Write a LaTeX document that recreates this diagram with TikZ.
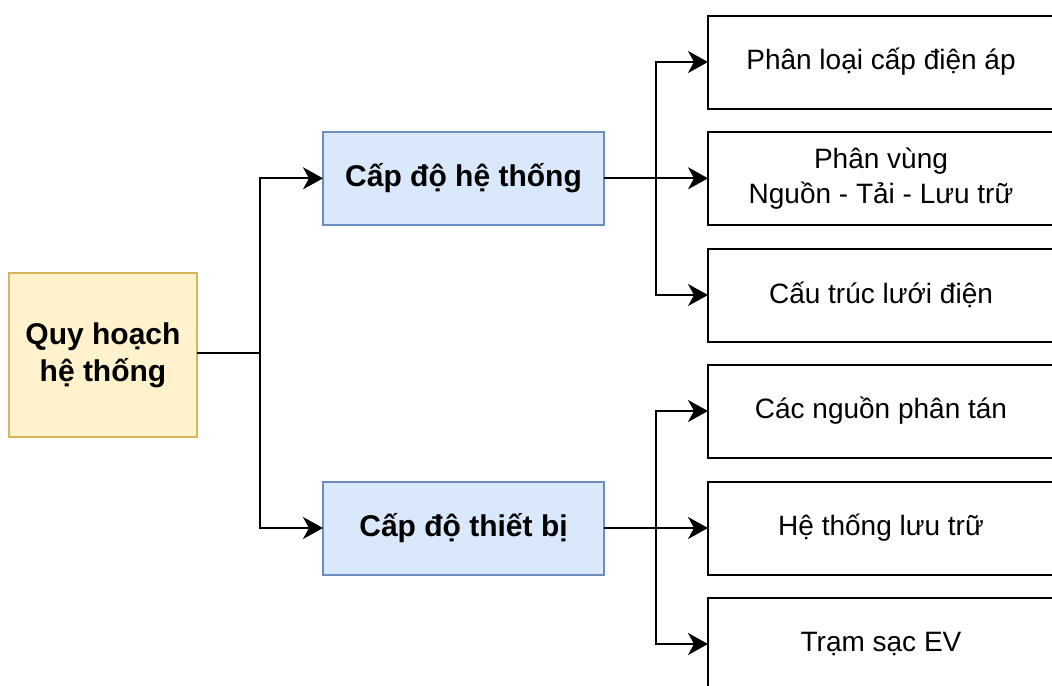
\documentclass[tikz,border=0pt]{standalone}
\usepackage{fontspec}
\setmainfont{Liberation Sans}
\usetikzlibrary{arrows.meta}
\definecolor{rootfill}{HTML}{FFF2CC}
\definecolor{rootline}{HTML}{D6B656}
\definecolor{levelfill}{HTML}{DAE8FC}
\definecolor{levelline}{HTML}{6C8EBF}
\begin{document}
\begin{tikzpicture}[x=0.5pt,y=-0.5pt,
  basebox/.style={draw, line width=1pt, inner sep=0pt, outer sep=0pt, align=center},
  rootbox/.style={basebox, fill=rootfill, draw=rootline, minimum width=94pt, minimum height=82pt,
    font=\bfseries\fontsize{15}{18.4}\selectfont},
  levelbox/.style={basebox, fill=levelfill, draw=levelline, minimum width=140.5pt, minimum height=46.5pt,
    font=\bfseries\fontsize{15}{18}\selectfont},
  itembox/.style={basebox, fill=white, draw=black, minimum width=173pt, minimum height=46.5pt,
    font=\fontsize{14}{17.5}\selectfont},
  link/.style={draw=black, line width=1pt},
  arrowlink/.style={link, -{Stealth[length=10pt, width=11pt, inset=3pt]}}
]
\useasboundingbox (0,0) rectangle (1052,685);

% hierarchy boxes
\node[rootbox] (root) at (103,355) {Quy hoạch\\hệ thống};
\node[levelbox] (sys) at (463.5,178.3) {Cấp độ hệ thống};
\node[levelbox] (dev) at (463.5,528) {Cấp độ thiết bị};

\node[itembox] (a1) at (881,62)  {Phân loại cấp điện áp};
\node[itembox] (a2) at (881,178.3) {Phân vùng\\Nguồn - Tải - Lưu trữ};
\node[itembox] (a3) at (881,295) {Cấu trúc lưới điện};
\node[itembox] (b1) at (881,411) {Các nguồn phân tán};
\node[itembox] (b2) at (881,528) {Hệ thống lưu trữ};
\node[itembox] (b3) at (881,644) {Trạm sạc EV};

% branching points
\coordinate (j0) at (260,353);
\coordinate (j1) at (656,178.3);
\coordinate (j2) at (656,528);

% connectors
\draw[link] (root.east |- j0) -- (j0);
\draw[arrowlink] (j0) |- (sys.west);
\draw[arrowlink] (j0) |- (dev.west);

\draw[link] (sys.east) -- (j1);
\draw[arrowlink] (j1) |- (a1.west);
\draw[arrowlink] (j1) -- (a2.west);
\draw[arrowlink] (j1) |- (a3.west);

\draw[link] (dev.east) -- (j2);
\draw[arrowlink] (j2) |- (b1.west);
\draw[arrowlink] (j2) -- (b2.west);
\draw[arrowlink] (j2) |- (b3.west);
\end{tikzpicture}
\end{document}
